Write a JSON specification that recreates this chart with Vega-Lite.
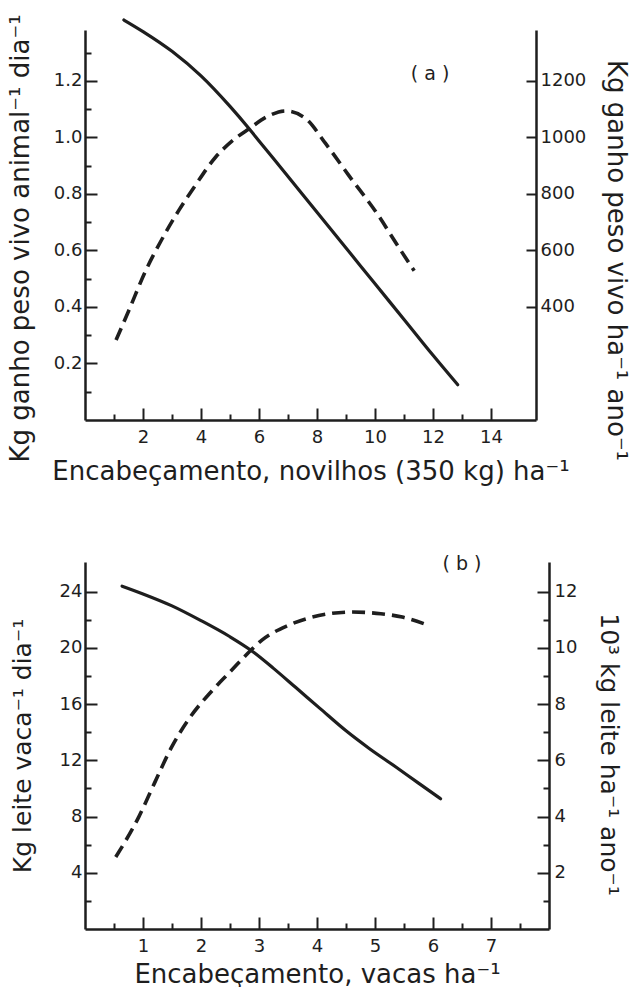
{
  "$schema": "https://vega.github.io/schema/vega-lite/v6.json",
  "background": "white",
  "padding": {"left": 7, "top": 13, "right": 2, "bottom": 0},
  "spacing": 70,
  "datasets": {
    "a_solid": [
      {"x": 1.34, "y": 1.416}, {"x": 2, "y": 1.375}, {"x": 3, "y": 1.305}, {"x": 4, "y": 1.218},
      {"x": 5, "y": 1.11}, {"x": 5.66, "y": 1.031}, {"x": 6, "y": 0.988}, {"x": 7, "y": 0.862},
      {"x": 8, "y": 0.735}, {"x": 9, "y": 0.609}, {"x": 10, "y": 0.482}, {"x": 11, "y": 0.356},
      {"x": 12, "y": 0.229}, {"x": 12.85, "y": 0.125}
    ],
    "a_dash": [
      {"x": 1.07, "y": 283}, {"x": 1.5, "y": 385}, {"x": 2.1, "y": 530}, {"x": 2.6, "y": 630},
      {"x": 3.24, "y": 743}, {"x": 3.8, "y": 830}, {"x": 4.5, "y": 930}, {"x": 5.1, "y": 990},
      {"x": 5.66, "y": 1031}, {"x": 6.3, "y": 1075}, {"x": 6.92, "y": 1094}, {"x": 7.61, "y": 1067},
      {"x": 8.3, "y": 978}, {"x": 9.1, "y": 865}, {"x": 10.14, "y": 720}, {"x": 10.7, "y": 630},
      {"x": 11.35, "y": 528}
    ],
    "b_solid": [
      {"x": 0.64, "y": 24.4}, {"x": 1, "y": 23.85}, {"x": 1.5, "y": 23.0}, {"x": 2, "y": 21.95},
      {"x": 2.5, "y": 20.8}, {"x": 2.86, "y": 19.84}, {"x": 3.25, "y": 18.55}, {"x": 3.63, "y": 17.2},
      {"x": 4.05, "y": 15.7}, {"x": 4.49, "y": 14.14}, {"x": 4.9, "y": 12.85}, {"x": 5.36, "y": 11.53},
      {"x": 5.75, "y": 10.38}, {"x": 6.13, "y": 9.27}
    ],
    "b_dash": [
      {"x": 0.53, "y": 2.56}, {"x": 0.93, "y": 4.0}, {"x": 1.2, "y": 5.2}, {"x": 1.5, "y": 6.5},
      {"x": 1.8, "y": 7.5}, {"x": 2.2, "y": 8.5}, {"x": 2.5, "y": 9.15}, {"x": 2.86, "y": 9.92},
      {"x": 3.05, "y": 10.28}, {"x": 3.5, "y": 10.8}, {"x": 3.92, "y": 11.1}, {"x": 4.61, "y": 11.28},
      {"x": 5.1, "y": 11.22}, {"x": 5.47, "y": 11.1}, {"x": 5.93, "y": 10.8}
    ]
  },
  "vconcat": [
    {
      "width": 451,
      "height": 390,
      "layer": [
        {
          "data": {"name": "a_solid"},
          "mark": {"type": "line", "color": "#1e1e1e", "strokeWidth": 3.2, "interpolate": "monotone", "strokeCap": "round"},
          "encoding": {
            "x": {
              "field": "x", "type": "quantitative",
              "scale": {"domain": [0, 15.55], "nice": false},
              "axis": {
                "title": "Encabeçamento, novilhos (350 kg) ha⁻¹",
                "titleFontSize": 26,
                "format": "d",
                "values": [1,2,3,4,5,6,7,8,9,10,11,12,13,14],
                "labelExpr": "datum.value % 2 == 0 ? datum.label : ''",
                "tickSize": {"condition": {"test": "datum.value % 2 == 0", "value": -12}, "value": -6},
                "labelPadding": {"condition": {"test": "datum.value % 2 == 0", "value": 20}, "value": 14},
                "titlePadding": 12
              }
            },
            "y": {
              "field": "y", "type": "quantitative",
              "scale": {"domain": [0, 1.3805], "nice": false},
              "axis": {
                "title": "Kg ganho peso vivo animal⁻¹ dia⁻¹",
                "titleFontSize": 26,
                "titleY": 208,
                "format": ".1f",
                "values": [0.1,0.2,0.3,0.4,0.5,0.6,0.7,0.8,0.9,1.0,1.1,1.2,1.3],
                "labelExpr": "round(datum.value*10) % 2 == 0 ? datum.label : ''",
                "tickSize": {"condition": {"test": "round(datum.value*10) % 2 == 0", "value": -12}, "value": -6},
                "labelPadding": {"condition": {"test": "round(datum.value*10) % 2 == 0", "value": 15}, "value": 9},
                "titlePadding": 20
              }
            }
          }
        },
        {
          "data": {"name": "a_dash"},
          "mark": {"type": "line", "color": "#1e1e1e", "strokeWidth": 3.6, "interpolate": "monotone", "strokeDash": [13, 7]},
          "encoding": {
            "x": {"field": "x", "type": "quantitative", "scale": {"domain": [0, 15.55], "nice": false}, "axis": null},
            "y": {
              "field": "y", "type": "quantitative",
              "scale": {"domain": [0, 1380.5], "nice": false},
              "axis": {
                "orient": "right",
                "title": "Kg ganho peso vivo ha⁻¹ ano⁻¹",
                "titleFontSize": 26,
                "titleY": 230,
                "format": "d",
                "values": [400, 600, 800, 1000, 1200],
                "tickSize": -10,
                "labelPadding": 14,
                "titlePadding": 17
              }
            }
          }
        },
        {
          "data": {"values": [{"x": 11.9, "y": 1.225, "t": "( a )"}]},
          "mark": {"type": "text", "font": "DejaVu Sans", "fontSize": 19, "color": "#1e1e1e"},
          "encoding": {
            "x": {"field": "x", "type": "quantitative", "scale": {"domain": [0, 15.55], "nice": false}, "axis": null},
            "y": {"field": "y", "type": "quantitative", "scale": {"domain": [0, 1.3805], "nice": false}, "axis": null},
            "text": {"field": "t"}
          }
        }
      ],
      "resolve": {"scale": {"x": "independent", "y": "independent"}}
    },
    {
      "width": 464,
      "height": 367,
      "layer": [
        {
          "data": {"name": "b_solid"},
          "mark": {"type": "line", "color": "#1e1e1e", "strokeWidth": 3.2, "interpolate": "monotone", "strokeCap": "round"},
          "encoding": {
            "x": {
              "field": "x", "type": "quantitative",
              "scale": {"domain": [0, 8.0], "nice": false},
              "axis": {
                "title": "Encabeçamento, vacas ha⁻¹",
                "titleFontSize": 26,
                "values": [0.5,1,1.5,2,2.5,3,3.5,4,4.5,5,5.5,6,6.5,7,7.5],
                "labelExpr": "datum.value % 1 == 0 ? '' + datum.value : ''",
                "tickSize": {"condition": {"test": "datum.value % 1 == 0", "value": -12}, "value": -6},
                "labelPadding": {"condition": {"test": "datum.value % 1 == 0", "value": 20}, "value": 14},
                "titlePadding": 6
              }
            },
            "y": {
              "field": "y", "type": "quantitative",
              "scale": {"domain": [0, 26.12], "nice": false},
              "axis": {
                "title": "Kg leite vaca⁻¹ dia⁻¹",
                "titleFontSize": 25,
                "values": [2,4,6,8,10,12,14,16,18,20,22,24],
                "labelExpr": "datum.value % 4 == 0 ? datum.label : ''",
                "tickSize": {"condition": {"test": "datum.value % 4 == 0", "value": -12}, "value": -6},
                "labelPadding": {"condition": {"test": "datum.value % 4 == 0", "value": 15}, "value": 9},
                "titlePadding": 24
              }
            }
          }
        },
        {
          "data": {"name": "b_dash"},
          "mark": {"type": "line", "color": "#1e1e1e", "strokeWidth": 3.6, "interpolate": "monotone", "strokeDash": [13, 7]},
          "encoding": {
            "x": {"field": "x", "type": "quantitative", "scale": {"domain": [0, 8.0], "nice": false}, "axis": null},
            "y": {
              "field": "y", "type": "quantitative",
              "scale": {"domain": [0, 13.06], "nice": false},
              "axis": {
                "orient": "right",
                "title": "10³ kg leite ha⁻¹ ano⁻¹",
                "titleFontSize": 25,
                "titleY": 192,
                "values": [1,2,3,4,5,6,7,8,9,10,11,12],
                "labelExpr": "datum.value % 2 == 0 ? datum.label : ''",
                "tickSize": {"condition": {"test": "datum.value % 2 == 0", "value": -12}, "value": -6},
                "labelPadding": {"condition": {"test": "datum.value % 2 == 0", "value": 17}, "value": 11},
                "titlePadding": 19
              }
            }
          }
        },
        {
          "data": {"values": [{"x": 6.5, "y": 26.0, "t": "( b )"}]},
          "mark": {"type": "text", "font": "DejaVu Sans", "fontSize": 19, "color": "#1e1e1e"},
          "encoding": {
            "x": {"field": "x", "type": "quantitative", "scale": {"domain": [0, 8.0], "nice": false}, "axis": null},
            "y": {"field": "y", "type": "quantitative", "scale": {"domain": [0, 26.12], "nice": false}, "axis": null},
            "text": {"field": "t"}
          }
        }
      ],
      "resolve": {"scale": {"x": "independent", "y": "independent"}}
    }
  ],
  "config": {
    "view": {"stroke": null},
    "axis": {
      "grid": false,
      "domainColor": "#1e1e1e",
      "domainWidth": 2.5,
      "tickColor": "#1e1e1e",
      "tickWidth": 2,
      "labelFont": "DejaVu Sans",
      "labelFontSize": 18,
      "labelColor": "#1e1e1e",
      "titleFont": "DejaVu Sans",
      "titleFontSize": 21,
      "titleFontWeight": "normal",
      "titleColor": "#1e1e1e"
    }
  }
}
